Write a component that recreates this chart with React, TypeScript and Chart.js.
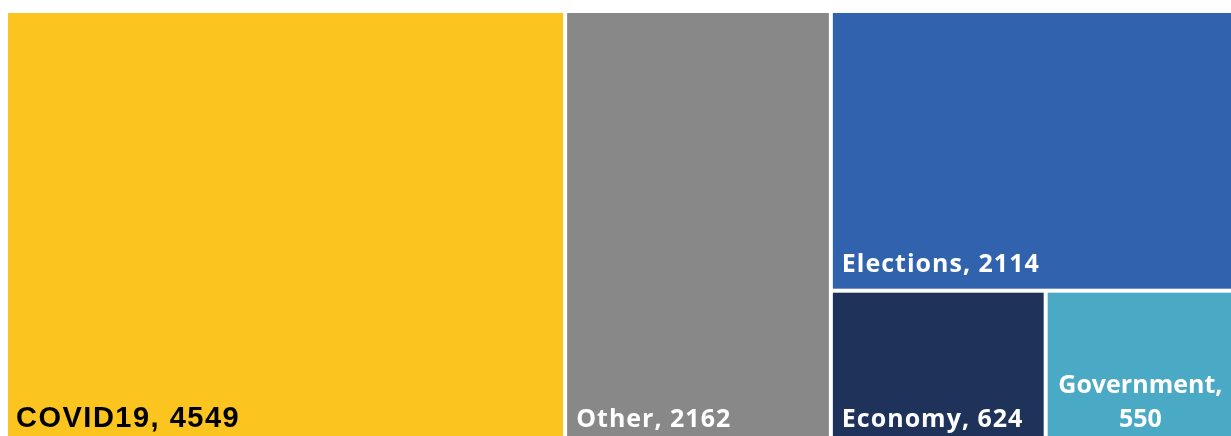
import React, { useEffect, useRef } from "react";
import { Chart, registerables } from "chart.js";

Chart.register(...registerables);

const categories = ["COVID19", "Other", "Elections", "Economy", "Government"];
const values = [4549, 2162, 2114, 624, 550];
const colors = ["#FCC41F", "#888888", "#3162AE", "#1F3259", "#4AAAC6"];
const labelColors = ["#000000", "#FFFFFF", "#FFFFFF", "#FFFFFF", "#FFFFFF"];

type Rect = { x: number; y: number; w: number; h: number };

function worst(row: number[], side: number): number {
  const s = row.reduce((a, b) => a + b, 0);
  let mx = 0;
  for (const r of row) {
    const len = s / side;
    const other = r / len;
    const ratio = Math.max(len / other, other / len);
    if (ratio > mx) mx = ratio;
  }
  return mx;
}

function squarify(areas: number[], box: Rect): Rect[] {
  const out: Rect[] = [];
  let rect = { ...box };
  let i = 0;
  while (i < areas.length) {
    const side = Math.min(rect.w, rect.h);
    let row = [areas[i]];
    let j = i + 1;
    while (j < areas.length) {
      const next = [...row, areas[j]];
      if (worst(next, side) <= worst(row, side)) {
        row = next;
        j++;
      } else break;
    }
    const s = row.reduce((a, b) => a + b, 0);
    if (rect.w >= rect.h) {
      const cw = s / rect.h;
      let y = rect.y;
      for (const r of row) {
        const hh = r / cw;
        out.push({ x: rect.x, y, w: cw, h: hh });
        y += hh;
      }
      rect = { x: rect.x + cw, y: rect.y, w: rect.w - cw, h: rect.h };
    } else {
      const rh = s / rect.w;
      let x = rect.x;
      for (const r of row) {
        const ww = r / rh;
        out.push({ x, y: rect.y, w: ww, h: rh });
        x += ww;
      }
      rect = { x: rect.x, y: rect.y + rh, w: rect.w, h: rect.h - rh };
    }
    i = j;
  }
  return out;
}

const treemapPlugin = {
  id: "treemapPlugin",
  afterDraw(chart: any) {
    const ctx = chart.ctx;
    const xs = chart.scales.x;
    const ys = chart.scales.y;
    const x0 = xs.getPixelForValue(0);
    const x1 = xs.getPixelForValue(1);
    const y0 = ys.getPixelForValue(0);
    const y1 = ys.getPixelForValue(1);
    const box = { x: x0, y: y0, w: x1 - x0, h: y1 - y0 };
    const total = values.reduce((a, b) => a + b, 0);
    const areas = values.map((v) => (v / total) * box.w * box.h);
    const rects = squarify(areas, box);
    const gap = 2;
    ctx.save();
    rects.forEach((r, k) => {
      const rx = r.x + gap, ry = r.y + gap, rw = r.w - 2 * gap, rh = r.h - 2 * gap;
      ctx.fillStyle = colors[k];
      ctx.fillRect(rx, ry, rw, rh);
      const text = `${categories[k]}, ${values[k]}`;
      const isFirst = k === 0;
      ctx.font = isFirst ? "bold 29px 'Liberation Sans'" : "bold 25px 'Open Sans'";
      ctx.fillStyle = labelColors[k];
      ctx.textBaseline = "alphabetic";
      const pad = isFirst ? 8 : 9;
      const base = ry + rh - 17;
      (ctx as any).letterSpacing = isFirst ? "1.5px" : "1px";
      const tw = ctx.measureText(text).width;
      if (tw + 2 * pad <= rw) {
        ctx.textAlign = "left";
        ctx.fillText(text, rx + pad, base);
      } else {
        (ctx as any).letterSpacing = "0px";
        ctx.textAlign = "center";
        const l1 = `${categories[k]},`;
        const l2 = `${values[k]}`;
        ctx.fillText(l1, rx + rw / 2, base - 34);
        ctx.fillText(l2, rx + rw / 2, base);
      }
      (ctx as any).letterSpacing = "0px";
    });
    ctx.restore();
  },
};

export default function App() {
  const ref = useRef<HTMLCanvasElement | null>(null);
  useEffect(() => {
    if (!ref.current) return;
    const chart = new Chart(ref.current, {
      type: "scatter",
      data: { datasets: [{ data: [] }] },
      options: {
        animation: false,
        responsive: false,
        events: [],
        layout: { padding: { left: 6, top: 11, right: 5, bottom: 6 } },
        plugins: { legend: { display: false }, tooltip: { enabled: false } },
        scales: {
          x: { type: "linear", min: 0, max: 1, display: false },
          y: { type: "linear", min: 0, max: 1, reverse: true, display: false },
        },
      },
      plugins: [treemapPlugin],
    });
    return () => chart.destroy();
  }, []);
  return (
    <div style={{ position: "fixed", left: 0, top: 0, width: 1231, height: 436, overflow: "hidden", background: "#fff" }}>
      <canvas ref={ref} width={1240} height={452} style={{ width: 1240, height: 452 }} />
    </div>
  );
}
